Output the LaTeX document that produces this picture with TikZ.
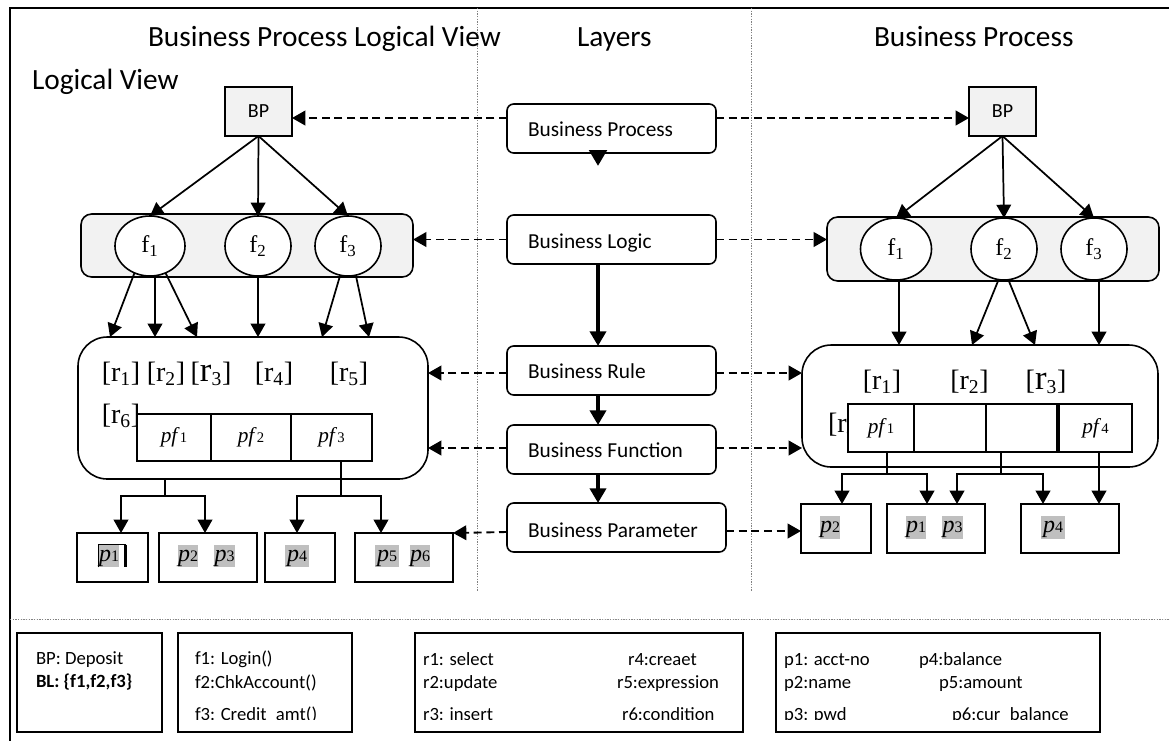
\documentclass[tikz,border=0pt]{standalone}
\usepackage{fontspec}
\setmainfont{Carlito}
\newfontfamily\tnr{Liberation Serif}
\usetikzlibrary{arrows.meta,shapes.geometric}
\definecolor{boxgray}{RGB}{242,242,242}
\definecolor{pgray}{RGB}{191,191,191}
\newcommand\myPF[1]{\textit{pf}{\fontsize{11}{11}\selectfont #1}}
\newcommand\myP[1]{\textit{p}{\fontsize{12}{12}\selectfont #1}}
\newcommand\myR[1]{[r\textsubscript{#1}]}
\newcommand\myF[1]{f\textsubscript{#1}}
\begin{document}
\begin{tikzpicture}[x=0.75pt,y=-0.75pt,
 every node/.style={inner sep=0pt,outer sep=0pt},
 sz/.style 2 args={minimum width=#1*0.75pt,minimum height=#2*0.75pt},
 box/.style={draw,line width=1.2pt},
 ell/.style={ellipse,draw,fill=white,line width=1.2pt,font=\tnr\fontsize{18}{18}\selectfont},
 lay/.style={box,rounded corners=5pt},
 laytxt/.style={anchor=base west,font=\fontsize{16}{19}\selectfont},
 ttl/.style={anchor=base west,font=\fontsize{22}{26}\selectfont},
 rl/.style={font=\tnr\fontsize{21}{21}\selectfont},
 pfc/.style={box,fill=white,font=\tnr\fontsize{16}{16}\selectfont},
 pb/.style={box,fill=white},
 pl/.style={fill=pgray,inner xsep=0.3pt,text height=12.5pt,text depth=4.5pt,font=\tnr\fontsize{18}{18}\selectfont},
 con/.style={line width=1.3pt},
 arr/.style={con,-{Triangle[length=10pt,width=11pt]}},
 darr/.style={line width=1.4pt,dash pattern=on 6pt off 3.5pt,-{Triangle[length=10pt,width=11pt]}},
 tarr/.style={line width=3.2pt,-{Triangle[length=11pt,width=12pt]}},
 div/.style={line width=0.6pt,gray,dash pattern=on 1pt off 1pt},
 lg/.style={anchor=base west,font=\fontsize{14}{16}\selectfont},
]
\useasboundingbox (0,0) rectangle (1169,740);

% frame and dividers
\draw[line width=1.4pt] (10,750) -- (10,8) -- (1180,8);
\draw[div] (477,8) -- (477,592);
\draw[div] (751,8) -- (751,592);
\draw[div] (10,619) -- (1169,619);

% titles
\node[ttl] (t1) at (148,46) {Business Process Logical View};
\node[ttl] (t2) at (577,46) {Layers};
\node[ttl] (t3) at (874,46) {Business Process};
\node[ttl] (t4) at (32,89) {Logical View};

% middle layers
\node[lay,sz={209}{49}] (mBP) at (611.5,128.5) {};
\node[laytxt] (mBPt) at (528,136) {Business Process};
\node[lay,sz={209}{49}] (mBL) at (611.5,239.5) {};
\node[laytxt] (mBLt) at (528,248) {Business Logic};
\node[lay,sz={209}{49}] (mBR) at (611.5,370.5) {};
\node[laytxt] (mBRt) at (528,378) {Business Rule};
\node[lay,sz={209}{49}] (mBF) at (611.5,449.5) {};
\node[laytxt] (mBFt) at (528,457) {Business Function};
\node[lay,sz={219}{49}] (mBPa) at (616.5,527.5) {};
\node[laytxt] (mBPat) at (528,537) {Business Parameter};

\coordinate (bpTip) at (598,166);
\draw[line width=3pt,-{Triangle[length=12pt,width=13pt]}] (mBP.south -| bpTip) -- (bpTip);
\draw[tarr] (mBL.south -| 598,0) -- (mBR.north -| 598,0);
\draw[tarr] (mBR.south -| 598,0) -- (mBF.north -| 598,0);
\draw[tarr] (mBF.south -| 598,0) -- (mBPa.north -| 598,0);

% ---------- left side ----------
\node[box,fill=boxgray,sz={67}{49},font=\fontsize{15}{17}\selectfont] (bpL) at (258.5,111.5) {BP};
\node[box,fill=boxgray,rounded corners=8pt,sz={332}{63}] (fL) at (247,245.5) {};
\node[ell,sz={70}{60}] (f1L) at (150,246) {\myF{1}};
\node[ell,sz={66}{60}] (f2L) at (258,246) {\myF{2}};
\node[ell,sz={66}{60}] (f3L) at (348,246) {\myF{3}};
\draw[arr] (bpL.south) -- (f1L.north);
\draw[arr] (bpL.south) -- (f2L.north);
\draw[arr] (bpL.south) -- (f3L.north);

\node[box,rounded corners=22pt,sz={350}{142}] (lrules) at (253,408) {};
\draw[arr] (f1L.240) -- (lrules.north -| 110,0);
\draw[arr] (f1L.south -| 155,0) -- (lrules.north -| 155,0);
\draw[arr] (f1L.300) -- (lrules.north -| 197,0);
\draw[arr] (f2L.south) -- (f2L.south |- lrules.north);
\draw[arr] (f3L.255) -- (lrules.north -| 322,0);
\draw[arr] (f3L.285) -- (lrules.north -| 369,0);

\node[rl] (lr1) at (121,374) {\myR{1}};
\node[rl] (lr2) at (166,374) {\myR{2}};
\node[rl] (lr3) at (211,374) {[{\fontsize{26}{26}\selectfont r}\textsubscript{3}]};
\node[rl] (lr4) at (274,374) {\myR{4}};
\node[rl] (lr5) at (349,374) {\myR{5}};
\node[rl] (lr6) at (121,416) {\myR{6}};

\node[pfc,sz={74}{47}] (lpf1) at (174,437.5) {\myPF{1}};
\node[pfc,sz={80}{47}] (lpf2) at (251,437.5) {\myPF{2}};
\node[pfc,sz={81}{47}] (lpf3) at (331.5,437.5) {\myPF{3}};

\node[pb,sz={71}{49}] (pL1) at (112.5,557.5) {};
\node[pb,sz={98}{49}] (pL23) at (208,557.5) {};
\node[pb,sz={70}{49}] (pL4) at (300,557.5) {};
\node[pb,sz={98}{49}] (pL56) at (404,557.5) {};

\node[pl] (lp1) at (109,556) {\myP{1}};
\draw[line width=0.9pt] (lp1.south west) -- (lp1.north west) -- ([xshift=5pt]lp1.north east);
\draw[line width=2.8pt] ([xshift=4.6pt]lp1.north east) -- ([xshift=4.6pt]lp1.south east);
\node[pl] (lp2) at (188,556) {\myP{2}};
\node[pl] (lp3) at (224.5,556) {\myP{3}};
\node[pl,minimum width=18pt] (lp4) at (297,556) {\myP{4}};
\node[pl,minimum width=18pt] (lp5) at (387,556) {\myP{5}};
\node[pl] (lp6) at (420,556) {\myP{6}};

\coordinate (jL1) at (165,496);
\draw[con] (lrules.south -| jL1) -- (jL1);
\draw[arr] (jL1) -| (pL1.north -| 121,0);
\draw[arr] (jL1) -| (pL23.north -| 205,0);
\coordinate (jL2) at (341,496);
\draw[con] (lpf3.south -| jL2) -- (jL2);
\draw[arr] (jL2) -| (pL4.north -| 297,0);
\draw[arr] (jL2) -| (pL56.north -| 381,0);

% ---------- right side ----------
\node[box,fill=boxgray,sz={67}{49},font=\fontsize{15}{17}\selectfont] (bpR) at (1002.5,111.5) {BP};
\node[box,fill=boxgray,rounded corners=8pt,sz={332}{64}] (fR) at (993,249) {};
\node[ell,sz={71}{62}] (f1R) at (896,249) {\myF{1}};
\node[ell,sz={66}{62}] (f2R) at (1004,249) {\myF{2}};
\node[ell,sz={66}{62}] (f3R) at (1094,249) {\myF{3}};
\draw[arr] (bpR.south) -- (f1R.north);
\draw[arr] (bpR.south) -- (f2R.north);
\draw[arr] (bpR.south) -- (f3R.north);

\node[box,rounded corners=22pt,sz={356}{122}] (rrules) at (980,406) {};
\draw[arr] (f1R.south -| 899,0) -- (rrules.north -| 899,0);
\draw[arr] (f2R.260) -- (rrules.north -| 972,0);
\draw[arr] (f2R.278) -- (rrules.north -| 1035,0);
\draw[arr] (f3R.south -| 1099,0) -- (rrules.north -| 1099,0);

\node[rl] (rr1) at (882,382) {\myR{1}};
\node[rl] (rr2) at (969.5,382) {\myR{2}};
\node[rl] (rr3) at (1046,382) {[{\fontsize{26}{26}\selectfont r}\textsubscript{3}]};
\node[rl,anchor=west] (rr4) at (828,425) {\myR{4}};

\node[pfc,sz={66}{48}] (rpf1) at (881,428) {\myPF{1}};
\node[pfc,sz={72}{48}] (rc2) at (950,428) {};
\node[pfc,sz={71}{48}] (rc3) at (1021.5,428) {};
\node[pfc,sz={73}{48}] (rpf4) at (1095.5,428) {\myPF{4}};

\node[pb,sz={70}{49}] (pR2) at (836,528.5) {};
\node[pb,sz={98}{49}] (pR13) at (936,528.5) {};
\node[pb,sz={98}{49}] (pR4) at (1070,528.5) {};
\node[pl] (rp2) at (830,527.5) {\myP{2}};
\node[pl] (rp1) at (916,527.5) {\myP{1}};
\node[pl] (rp3) at (952.5,527.5) {\myP{3}};
\node[pl,minimum width=18pt] (rp4) at (1053,527.5) {\myP{4}};

\coordinate (jR1) at (887,474);
\draw[con] (rpf1.south -| jR1) -- (jR1);
\draw[arr] (jR1) -| (pR2.north -| 842,0);
\draw[arr] (jR1) -| (pR13.north -| 927,0);
\coordinate (jR2) at (1001,474);
\draw[con] (rc3.south -| jR2) -- (jR2);
\draw[arr] (jR2) -| (pR13.north -| 957,0);
\draw[arr] (jR2) -| (pR4.north -| 1043,0);
\draw[arr] (rpf4.south -| 1099,0) -- (pR4.north -| 1099,0);

% ---------- dashed layer links ----------
\draw[darr] (mBP.west |- 0,118) -- (bpL.east |- 0,118);
\draw[darr] (mBP.east |- 0,118) -- (bpR.west |- 0,118);
\draw[darr] (mBL.west) -- (fL.east |- mBL.west);
\draw[darr] (mBL.east) -- (fR.west |- mBL.east);
\draw[darr] (mBR.west |- 0,373) -- (lrules.east |- 0,373);
\draw[darr] (mBR.east |- 0,373) -- (rrules.west |- 0,373);
\draw[darr] (mBF.west |- 0,448) -- (lrules.east |- 0,448);
\draw[darr] (mBF.east |- 0,448) -- (802,448);
\draw[darr] (mBPa.west |- 0,532) -- (pL56.north east);
\draw[darr] (mBPa.east |- 0,531) -- (pR2.west |- 0,531);

% ---------- legend ----------
\node[box,sz={145}{99}] (lg1) at (89.5,682.5) {};
\node[box,sz={174}{99}] (lg2) at (265,682.5) {};
\node[box,sz={328}{99}] (lg3) at (579,682.5) {};
\node[box,sz={324}{99}] (lg4) at (938,682.5) {};
\begin{scope}
\clip (0,625) rectangle (1169,719.5);
\node[lg] (l1a) at (36,664) {BP: Deposit};
\node[lg,font=\fontsize{14}{16}\selectfont\bfseries] (l1b) at (36,687) {BL: \{f1,f2,f3\}};
\node[lg] (l2a) at (195,664) {f1: Login()};
\node[lg] (l2b) at (195,688) {f2:ChkAccount()};
\node[lg] (l2c) at (195,720) {f3: Credit\_amt()};
\node[lg] (l3a) at (423,665) {r1: select};
\node[lg] (l3b) at (423,688) {r2:update};
\node[lg] (l3c) at (423,720) {r3: insert};
\node[lg] (l3d) at (628,665) {r4:creaet};
\node[lg] (l3e) at (617,688) {r5:expression};
\node[lg] (l3f) at (622,720) {r6:condition};
\node[lg] (l4a) at (784,665) {p1: acct-no};
\node[lg] (l4b) at (784,688) {p2:name};
\node[lg] (l4c) at (784,720) {p3: pwd};
\node[lg] (l4d) at (919,665) {p4:balance};
\node[lg] (l4e) at (939,688) {p5:amount};
\node[lg] (l4f) at (952,720) {p6:cur\_balance};
\end{scope}
\end{tikzpicture}
\end{document}
